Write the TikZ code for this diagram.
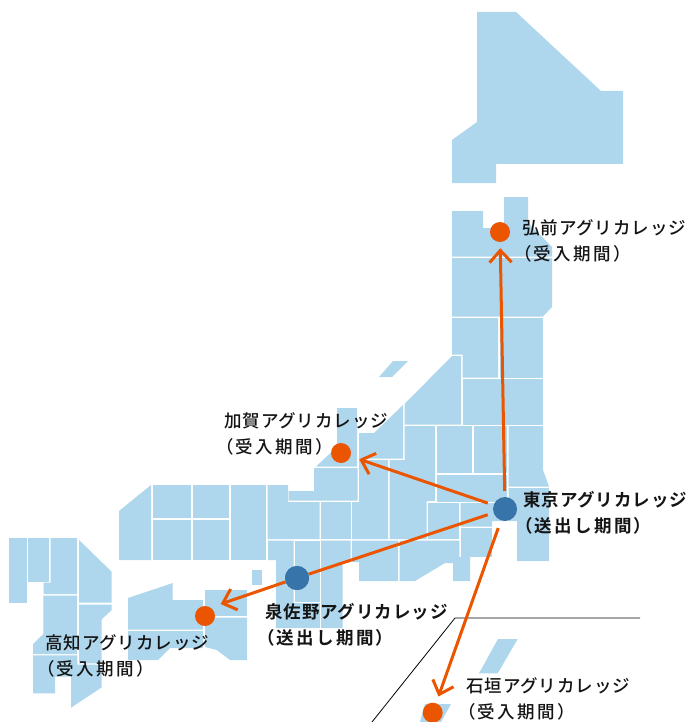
\documentclass[tikz,border=0pt]{standalone}
\usepackage{fontspec}
\usetikzlibrary{arrows.meta}
\newfontfamily\jpa[LetterSpace=5.2,BoldFont={Noto Sans CJK JP Bold}]{Noto Sans CJK JP Medium}
\newfontfamily\jpb[LetterSpace=13,BoldFont={Noto Sans CJK JP Bold}]{Noto Sans CJK JP Medium}
\definecolor{land}{HTML}{AED6EC}
\definecolor{linkc}{HTML}{EC5500}
\definecolor{srcc}{HTML}{3774A9}
\definecolor{inkc}{HTML}{141414}
\newcommand{\labeltext}[2]{{\jpa #1}\\{\jpb\hspace*{-8pt}#2}}
\tikzset{
  pref/.style={fill=land,draw=none},
  recv/.style={circle,fill=linkc,minimum size=20pt,inner sep=0pt},
  send/.style={circle,fill=srcc,minimum size=24pt,inner sep=0pt},
  linkline/.style={draw=linkc,line width=3pt},
  linkarrow/.style={linkline,-{Straight Barb[length=12pt,width=22pt,line width=3pt]}},
  lab/.style={anchor=west,align=left,inner sep=0pt,text=inkc,font=\fontsize{17.5pt}{26pt}\selectfont},
  blab/.style={lab,font=\fontsize{17.5pt}{26pt}\selectfont\bfseries},
  inset/.style={draw=black,line width=0.8pt}
}
\begin{document}
\begin{tikzpicture}[x=1pt,y=-1pt]
\useasboundingbox (0,0) rectangle (690,722);
% Hokkaido
\fill[pref] (477,12)--(516,12)--(601,91)--(623,91)--(623,164)--(496,164)--(496,183)--(452,183)--(452,140)--(477,122)--cycle;
% Tohoku
\fill[pref] (452,211)--(483,211)--(483,228)--(504,228)--(504,197)--(528,197)--(528,223)--(552,247)--(552,256.5)--(452,256.5)--cycle;
\fill[pref] (452,258)--(552,258)--(552,307)--(543,316.5)--(452,316.5)--cycle;
\fill[pref] (452,318)--(498,318)--(498,377.5)--(462.5,377.5)--(462.5,354.5)--(452,354.5)--cycle;
\fill[pref] (499.5,318)--(543,318)--(543,377.5)--(499.5,377.5)--cycle;
\fill[pref] (462.5,379)--(502,379)--(502,424.5)--(462.5,424.5)--cycle;
\fill[pref] (503.5,379)--(543,379)--(543,424.5)--(503.5,424.5)--cycle;
% Kanto
\fill[pref] (436.7,426)--(472,426)--(472,473)--(436.7,473)--cycle;
\fill[pref] (473.5,426)--(507,426)--(507,473)--(473.5,473)--cycle;
\fill[pref] (508.5,426)--(543,426)--(543,470)--(549,486.5)--(508.5,486.5)--cycle;
\fill[pref] (436.7,474.5)--(507,474.5)--(507,501.5)--(436.7,501.5)--cycle;
\fill[pref] (508.5,488)--(549,488)--(549,561)--(517,561)--(517,521)--(508.5,521)--cycle;
\fill[pref] (460.7,503)--(507,503)--(507,521)--(492,521)--(492,526.5)--(460.7,526.5)--cycle;
\fill[pref] (460.7,528)--(492,528)--(492,556.7)--(460.7,556.7)--cycle;
\fill[pref] (428,503)--(459.3,503)--(459.3,539)--(428,539)--cycle;
% Chubu
\fill[pref] (393,361)--(408,361)--(392,377)--(379,377)--cycle;
\fill[pref] (452,356)--(461,356)--(461,424.5)--(404.5,424.5)--(404.5,404)--cycle;
\fill[pref] (359,433)--(374,433)--(403,405)--(403,458.5)--(359,458.5)--cycle;
\fill[pref] (337,408)--(357,408)--(357,466.5)--(316,466.5)--(337,447)--cycle;
\fill[pref] (314,468)--(357.5,468)--(357.5,500.5)--(288.5,500.5)--(288.5,491)--(314,491)--cycle;
\fill[pref] (404.5,426)--(435,426)--(435,501)--(426.5,501)--(426.5,539)--(389.5,539)--(389.5,460)--(404.5,460)--cycle;
\fill[pref] (359,460)--(388,460)--(388,539)--(352,539)--(352,502)--(359,502)--cycle;
\fill[pref] (321,502)--(350.5,502)--(350.5,539)--(321,539)--cycle;
\fill[pref] (352,540.5)--(398,540.5)--(398,581)--(359,581)--(359,562)--(352,562)--cycle;
\fill[pref] (399.5,540.5)--(459.3,540.5)--(459.3,557)--(470,557)--(470,581)--(453,581)--(453,563)--(445,563)--(415,581)--(399.5,581)--cycle;
% Kinki
\fill[pref] (267.7,485)--(288,485)--(288,502)--(319.5,502)--(319.5,539)--(267.7,539)--cycle;
\fill[pref] (268,540.5)--(293.5,540.5)--(293.5,603)--(320,603)--(320,628)--(276,628)--(276,560)--(268,560)--cycle;
\fill[pref] (295,540.5)--(319.5,540.5)--(319.5,601.5)--(295,601.5)--cycle;
\fill[pref] (321,540.5)--(350.5,540.5)--(350.5,562)--(342.5,562)--(342.5,628)--(321,628)--cycle;
\fill[pref] (252,570)--(262,570)--(262,585)--(252,585)--cycle;
% Chugoku
\fill[pref] (119,511)--(151,485)--(151,560)--(119,560)--cycle;
\fill[pref] (152.5,485)--(191,485)--(191,518)--(152.5,518)--cycle;
\fill[pref] (192.5,485)--(229,485)--(229,518)--(192.5,518)--cycle;
\fill[pref] (152.5,519.5)--(191,519.5)--(191,560)--(152.5,560)--cycle;
\fill[pref] (192.5,519.5)--(229,519.5)--(229,560)--(192.5,560)--cycle;
\fill[pref] (230.5,485)--(266,485)--(266,560)--(230.5,560)--cycle;
% Shikoku
\fill[pref] (128,598)--(172.7,583)--(172.7,600)--(203,600)--(203,629.5)--(128,629.5)--cycle;
\fill[pref] (128,631)--(203,631)--(203,648)--(170,648)--(158,660)--(128,660)--cycle;
\fill[pref] (205,590)--(247,590)--(247,616)--(205,616)--cycle;
\fill[pref] (205,617.5)--(247,617.5)--(247,660)--(230,660)--(216.7,650)--(205,647)--cycle;
% Kyushu
\fill[pref] (9.3,538)--(26.7,538)--(26.7,603)--(9.3,603)--cycle;
\fill[pref] (28,538)--(49,538)--(49,581.7)--(28,581.7)--cycle;
\fill[pref] (50.7,538)--(77,538)--(77,594)--(43.7,594)--(43.7,582.7)--(50.7,582.7)--cycle;
\fill[pref] (43.3,595.7)--(77,595.7)--(77,654)--(33,654)--(33,644)--(43.3,634)--cycle;
\fill[pref] (79,540)--(111.7,571.7)--(111.7,602.7)--(79,602.7)--cycle;
\fill[pref] (79,604.5)--(111.7,604.5)--(111.7,610)--(101.7,619.3)--(101.7,663.3)--(79,663.3)--cycle;
\fill[pref] (33,655.3)--(77.3,655.3)--(77.3,664.7)--(101.7,664.7)--(101.7,687.3)--(71,707.7)--(71,676.7)--(55,676.7)--(55,693.3)--(33,693.3)--cycle;
% Okinawa
\fill[pref] (498,639)--(517.7,639)--(497.7,673.3)--(479,673.3)--cycle;
\fill[pref] (425,704)--(451,704)--(441,722)--(420,722)--cycle;
% inset frame
\coordinate (fa) at (372,722);
\coordinate (fb) at (455,618);
\coordinate (fc) at (640,618);
\draw[inset] (fa)--(fb)--(fc);
% places
\node[recv] (hirosaki) at (500,232) {};
\node[recv] (kaga) at (341,453) {};
\node[recv] (kochi) at (205,616) {};
\node[recv] (ishigaki) at (432.7,712.7) {};
\node[send] (tokyo) at (505,509) {};
\node[send] (izumi) at (297,578) {};
\coordinate (kochitip) at (220.7,604);
% connectors
\draw[linkarrow,shorten <=6pt,shorten >=6pt] (tokyo)--(hirosaki);
\draw[linkarrow,shorten <=6pt,shorten >=9pt] (tokyo)--(kaga);
\draw[linkline,shorten <=6pt] (tokyo)--(izumi);
\draw[linkarrow] (izumi)--(kochitip);
\draw[linkarrow,shorten <=8pt,shorten >=7pt] (tokyo)--(ishigaki);
\node[send] at (izumi) {};
% labels
\node[lab] (lhirosaki) at (522,241) {\labeltext{弘前アグリカレッジ}{（受入期間）}};
\node[lab] (lkaga) at (224,434) {\labeltext{加賀アグリカレッジ}{（受入期間）}};
\node[blab] (ltokyo) at (523,513) {\labeltext{東京アグリカレッジ}{（送出し期間）}};
\node[blab] (lizumi) at (265,625) {\labeltext{泉佐野アグリカレッジ}{（送出し期間）}};
\node[lab] (lkochi) at (45,656) {\labeltext{高知アグリカレッジ}{（受入期間）}};
\node[lab] (lishigaki) at (466,699) {\labeltext{石垣アグリカレッジ}{（受入期間）}};
\end{tikzpicture}
\end{document}
